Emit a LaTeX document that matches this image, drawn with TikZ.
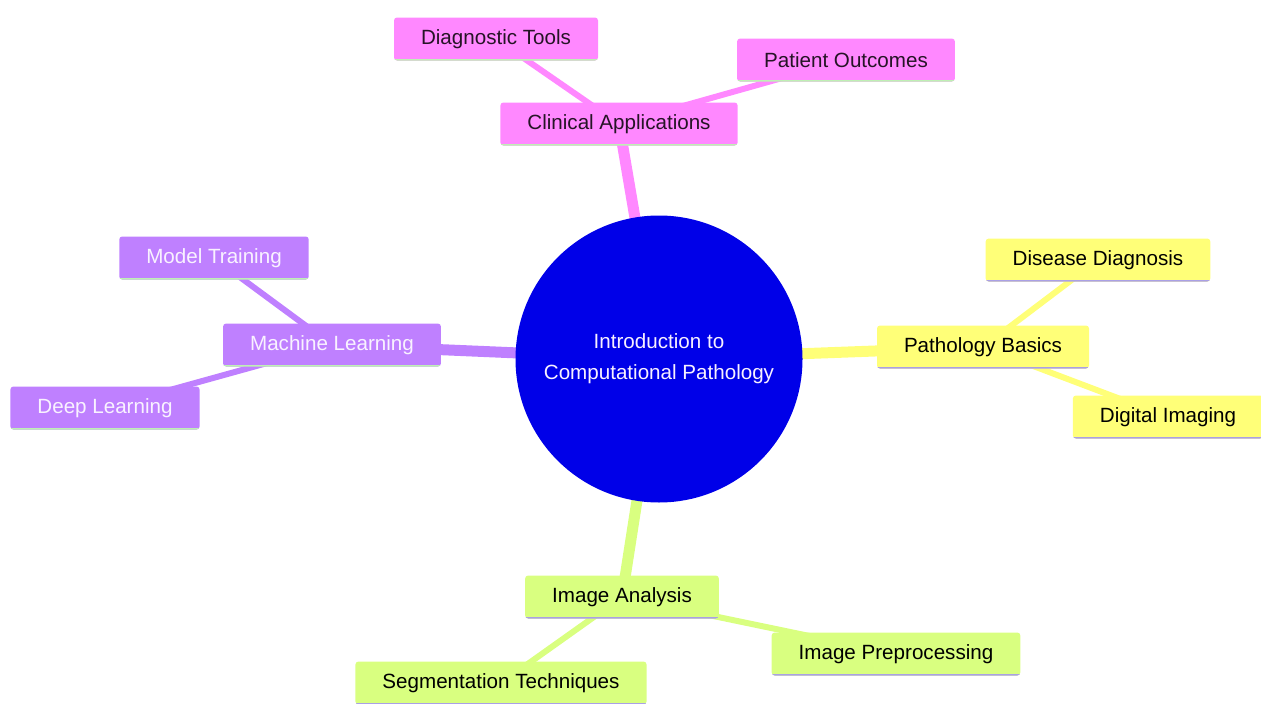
\documentclass[tikz,border=0pt]{standalone}
\usepackage{fontspec}
\setmainfont{Liberation Sans}
\usetikzlibrary{backgrounds}

\definecolor{clinpink}{RGB}{255,136,255}
\definecolor{mlpurple}{RGB}{191,128,255}
\definecolor{pathyellow}{RGB}{255,255,120}
\definecolor{imggreen}{RGB}{217,255,128}
\definecolor{rootblue}{RGB}{0,0,232}
\definecolor{lightgreen}{RGB}{190,240,180}
\definecolor{lavender}{RGB}{170,160,230}

\tikzset{
  topic/.style 2 args={rectangle, rounded corners=3pt, fill=#1, minimum height=43pt,
    inner xsep=27pt, font=\fontsize{20.6}{24}\selectfont,
    path picture={\draw[line width=4pt, #2]
      (path picture bounding box.south west) -- (path picture bounding box.south east);}},
  branch/.style={line width=11pt, #1},
  twig/.style={line width=6pt, #1},
}

\begin{document}
\begin{tikzpicture}[x=1pt, y=-1pt]
        \useasboundingbox (0,0) rectangle (1261,704);
        % centre
        \node[circle, fill=rootblue, minimum size=287pt, align=center, text=white!88!mlpurple,
              font=\fontsize{20.6}{31}\selectfont] (root) at (659,359) {Introduction to\\Computational Pathology};
        % clinical applications
        \node[topic={clinpink}{lightgreen}, text=black!85!clinpink] (clin) at (619,124) {Clinical Applications};
        \node[topic={clinpink}{lightgreen}, text=black!85!clinpink] (tools) at (496,39) {Diagnostic Tools};
        \node[topic={clinpink}{lightgreen}, text=black!85!clinpink] (outcomes) at (846,60) {Patient Outcomes};
        % machine learning
        \node[topic={mlpurple}{lightgreen}, text=white!90!mlpurple] (ml) at (332,345) {Machine Learning};
        \node[topic={mlpurple}{lightgreen}, text=white!90!mlpurple] (training) at (214,258) {Model Training};
        \node[topic={mlpurple}{lightgreen}, text=white!90!mlpurple] (deep) at (105,408) {Deep Learning};
        % pathology basics
        \node[topic={pathyellow}{lavender}, text=black] (basics) at (983,347) {Pathology Basics};
        \node[topic={pathyellow}{lavender}, text=black] (diagnosis) at (1098,260) {Disease Diagnosis};
        \node[topic={pathyellow}{lavender}, text=black] (imaging) at (1168,417) {Digital Imaging};
        % image analysis
        \node[topic={imggreen}{lavender}, text=black] (analysis) at (622,597) {Image Analysis};
        \node[topic={imggreen}{lavender}, text=black] (preproc) at (896,654) {Image Preprocessing};
        \node[topic={imggreen}{lavender}, text=black] (segment) at (501,683) {Segmentation Techniques};
        % connectors
        \begin{scope}[on background layer]
          \draw[branch=clinpink] (root.center) -- (clin.center);
          \draw[branch=mlpurple] (root.center) -- (ml.center);
          \draw[branch=pathyellow] (root.center) -- (basics.center);
          \draw[branch=imggreen] (root.center) -- (analysis.center);
          \draw[twig=clinpink] (clin.center) -- (tools.center);
          \draw[twig=clinpink] (clin.center) -- (outcomes.center);
          \draw[twig=mlpurple] (ml.center) -- (training.center);
          \draw[twig=mlpurple] (ml.center) -- (deep.center);
          \draw[twig=pathyellow] (basics.center) -- (diagnosis.center);
          \draw[twig=pathyellow] (basics.center) -- (imaging.center);
          \draw[twig=imggreen] (analysis.center) -- (preproc.center);
          \draw[twig=imggreen] (analysis.center) -- (segment.center);
        \end{scope}
    \end{tikzpicture}
\end{document}
